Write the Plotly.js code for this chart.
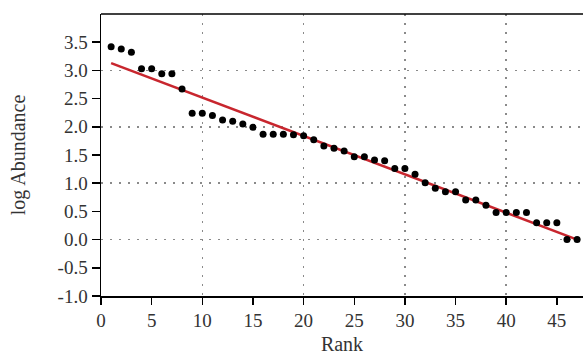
<!DOCTYPE html>
<html>
<head>
<meta charset="utf-8">
<script src="https://cdn.plot.ly/plotly-3.0.1.min.js"></script>
<style>html,body{margin:0;padding:0;background:#fff;}#chart{width:583px;height:359px;}</style>
</head>
<body>
<div id="chart"></div>
<script>
var rank = [1,2,3,4,5,6,7,8,9,10,11,12,13,14,15,16,17,18,19,20,21,22,23,24,25,26,27,28,29,30,31,32,33,34,35,36,37,38,39,40,41,42,43,44,45,46,47];
var logAbundance = [3.42,3.38,3.32,3.03,3.03,2.94,2.94,2.67,2.24,2.24,2.20,2.12,2.10,2.05,1.99,1.87,1.87,1.87,1.86,1.84,1.77,1.66,1.62,1.57,1.47,1.47,1.41,1.40,1.26,1.26,1.16,1.01,0.91,0.85,0.85,0.70,0.70,0.61,0.48,0.48,0.48,0.48,0.30,0.30,0.30,0.00,0.00];
var fitX = [1, 47];
var fitY = [3.13, 0.0];
var yTickVals = [-1, -0.5, 0, 0.5, 1, 1.5, 2, 2.5, 3, 3.5];
var yTickText = ['-1.0', '-0.5', '0.0', '0.5', '1.0', '1.5', '2.0', '2.5', '3.0', '3.5'];
var xTickVals = [0, 5, 10, 15, 20, 25, 30, 35, 40, 45];

var font = 'Liberation Serif, Times New Roman, serif';
var xr = [0, 47.58], yr = [-1, 4];

var traces = [
  {x: [], y: [], xaxis: 'x2', yaxis: 'y2', type: 'scatter', mode: 'markers', hoverinfo: 'skip', showlegend: false},
  {x: fitX, y: fitY, type: 'scatter', mode: 'lines', line: {color: '#c8262e', width: 2.5}, showlegend: false},
  {x: rank, y: logAbundance, type: 'scatter', mode: 'markers', marker: {color: '#000', size: 7}, showlegend: false}
];

var layout = {
  width: 583, height: 359,
  margin: {l: 101, r: 0, t: 14, b: 63},
  paper_bgcolor: '#fff', plot_bgcolor: '#fff',
  font: {family: font, color: '#111', size: 19},
  xaxis: {
    range: xr, tickmode: 'array', tickvals: xTickVals,
    ticks: 'outside', ticklen: 7, tickwidth: 1.5, tickcolor: '#000',
    showline: true, linecolor: '#000', linewidth: 1.5,
    showgrid: false, zeroline: false,
    tickfont: {family: font, size: 19, color: '#333'},
    title: {text: 'Rank', font: {family: font, size: 20, color: '#333'}, standoff: 6}
  },
  yaxis: {
    range: yr, tickmode: 'array', tickvals: yTickVals, ticktext: yTickText,
    ticks: 'outside', ticklen: 8, tickwidth: 1.5, tickcolor: '#000',
    showline: true, linecolor: '#000', linewidth: 1.5,
    showgrid: false, zeroline: false,
    tickfont: {family: font, size: 19, color: '#333'},
    title: {text: 'log Abundance', font: {family: font, size: 20, color: '#333'}, standoff: 26}
  },
  xaxis2: {
    overlaying: 'x', range: xr, tickmode: 'linear', tick0: 0, dtick: 10,
    showgrid: true, gridcolor: '#8a8a8a', griddash: '2px,7px', gridwidth: 1.5,
    showticklabels: false, ticks: '', showline: false, zeroline: false
  },
  yaxis2: {
    overlaying: 'y', range: yr, tickmode: 'linear', tick0: 0, dtick: 1,
    showgrid: true, gridcolor: '#8a8a8a', griddash: '2px,7px', gridwidth: 1.5,
    showticklabels: false, ticks: '', showline: false, zeroline: false
  },
  shapes: [
    {type: 'line', xref: 'paper', yref: 'paper', x0: 0, x1: 1, y0: 1, y1: 1, line: {color: '#000', width: 1.5}}
  ]
};

Plotly.newPlot('chart', traces, layout, {displayModeBar: false, staticPlot: true});
</script>
</body>
</html>
